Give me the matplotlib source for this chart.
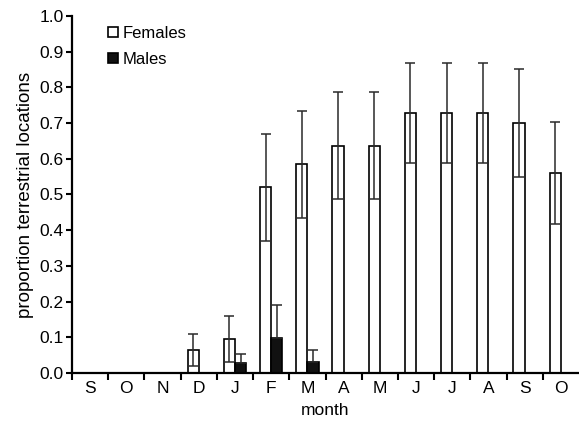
import matplotlib
matplotlib.use("Agg")
import matplotlib.pyplot as plt
import numpy as np

plt.rcParams['font.family'] = ['Liberation Sans', 'DejaVu Sans']

months = ['S', 'O', 'N', 'D', 'J', 'F', 'M', 'A', 'M', 'J', 'J', 'A', 'S', 'O']
females = [0, 0, 0, 0.065, 0.096, 0.52, 0.585, 0.637, 0.637, 0.727, 0.727, 0.727, 0.70, 0.56]
females_err = [0, 0, 0, 0.045, 0.065, 0.15, 0.15, 0.15, 0.15, 0.14, 0.14, 0.14, 0.152, 0.142]
males = [0, 0, 0, 0, 0.029, 0.097, 0.032, 0, 0, 0, 0, 0, 0, 0]
males_err = [0, 0, 0, 0, 0.025, 0.093, 0.033, 0, 0, 0, 0, 0, 0, 0]

fig = plt.figure(figsize=(5.79, 4.32), dpi=100)
ax = fig.add_axes([0.1244, 0.1366, 0.8756, 0.8264])

x = np.arange(len(months))
w = 0.31
fem = np.array(females)
fem_e = np.array(females_err)
mal = np.array(males)
mal_e = np.array(males_err)
fem_mask = fem > 0
mal_mask = mal > 0

ax.bar(x[fem_mask] - w / 2, fem[fem_mask], width=w, color='white',
       edgecolor='black', linewidth=1.2, label='Females', zorder=2)
ax.errorbar(x[fem_mask] - w / 2, fem[fem_mask], yerr=fem_e[fem_mask],
            fmt='none', ecolor='#2a2a2a', elinewidth=1.1, capsize=3.5, capthick=1.1, zorder=3)
ax.bar(x[mal_mask] + w / 2, mal[mal_mask], width=w, color='#111111',
       edgecolor='black', linewidth=1.2, label='Males', zorder=2)
ax.errorbar(x[mal_mask] + w / 2, mal[mal_mask],
            yerr=[np.zeros(mal_mask.sum()), mal_e[mal_mask]],
            fmt='none', ecolor='#2a2a2a', elinewidth=1.1, capsize=3.5, capthick=1.1, zorder=3)

ax.set_xlim(-0.5, len(months) - 0.5)
ax.set_ylim(0, 1.0)
yt = np.arange(0, 1.01, 0.1)
ax.set_yticks(yt)
ax.set_yticklabels([f'{v:.1f}' for v in yt])
ax.set_xticks(np.arange(-0.5, len(months) - 0.5, 1.0))
ax.set_xticklabels([])
ax.set_xticks(x, minor=True)
ax.set_xticklabels(months, minor=True)
ax.tick_params(axis='x', which='major', direction='out', length=5, width=1.5)
ax.tick_params(axis='x', which='minor', length=0, pad=6, labelsize=12.5)
ax.tick_params(axis='y', direction='out', length=4, width=1.5, labelsize=12.5, pad=2)

for s in ['top', 'right']:
    ax.spines[s].set_visible(False)
for s in ['left', 'bottom']:
    ax.spines[s].set_linewidth(1.6)

ax.set_xlabel('month', fontsize=12.5, labelpad=5)
ax.set_ylabel('proportion terrestrial locations', fontsize=13.5, labelpad=4)

leg = ax.legend(loc='upper left', bbox_to_anchor=(0.041, 1.014), frameon=False,
                fontsize=12, handlelength=0.6, handleheight=0.6, handletextpad=0.3,
                labelspacing=0.65)

fig.savefig('out.png', dpi=100)
